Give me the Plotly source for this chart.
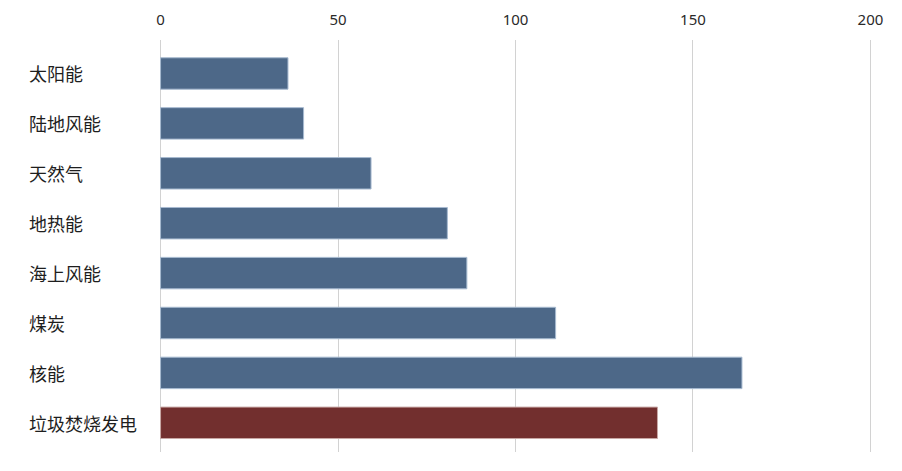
import plotly.graph_objects as go

categories = ["太阳能", "陆地风能", "天然气", "地热能", "海上风能", "煤炭", "核能", "垃圾焚烧发电"]
values = [35.9, 40.3, 59.3, 80.8, 86.3, 111.3, 163.8, 140.0]
highlight = "垃圾焚烧发电"
tick_vals = [0, 50, 100, 150, 200]

BLUE = "#4d6888"
RED = "#722f2e"
colors = [RED if c == highlight else BLUE for c in categories]
line_colors = ["#c9a9a6" if c == highlight else "#a7bad0" for c in categories]

W, H = 902, 471
ml, mr, mt, mb = 157, 28, 40, 19
plot_w = W - ml - mr

fig = go.Figure(go.Bar(
    x=values,
    y=categories,
    orientation="h",
    marker=dict(color=colors, line=dict(color=line_colors, width=1)),
    width=0.63,
    hoverinfo="x+y",
))

annotations = []
label_x_px = 27
for c in categories:
    annotations.append(dict(
        x=(label_x_px - ml) / plot_w, xref="paper",
        y=c, yref="y",
        text=c, showarrow=False, xanchor="left", yanchor="middle",
        font=dict(size=18, color="#1e1e1e", family="Noto Sans CJK SC"),
    ))

fig.update_layout(
    width=W, height=H,
    margin=dict(l=ml, r=mr, t=mt, b=mb, pad=0),
    paper_bgcolor="white", plot_bgcolor="white",
    showlegend=False,
    font=dict(family="Noto Sans CJK SC", color="#333333"),
    annotations=annotations,
    xaxis=dict(
        side="top",
        range=[-1, 201],
        tickvals=tick_vals,
        ticktext=[str(v) for v in tick_vals],
        tickfont=dict(size=15, color="#2a2a2a", family="Noto Sans"),
        showgrid=True, gridcolor="#d2d2d2", gridwidth=1,
        zeroline=False,
        showline=False,
        ticks="",
        ticklabelstandoff=11,
        automargin=False,
        fixedrange=True,
    ),
    yaxis=dict(
        categoryorder="array",
        categoryarray=categories,
        range=[7.585, -0.671],
        showticklabels=False,
        showgrid=False, zeroline=False, showline=False, ticks="",
        automargin=False,
        fixedrange=True,
    ),
)

fig.write_html("out.html", config={"displayModeBar": False})
